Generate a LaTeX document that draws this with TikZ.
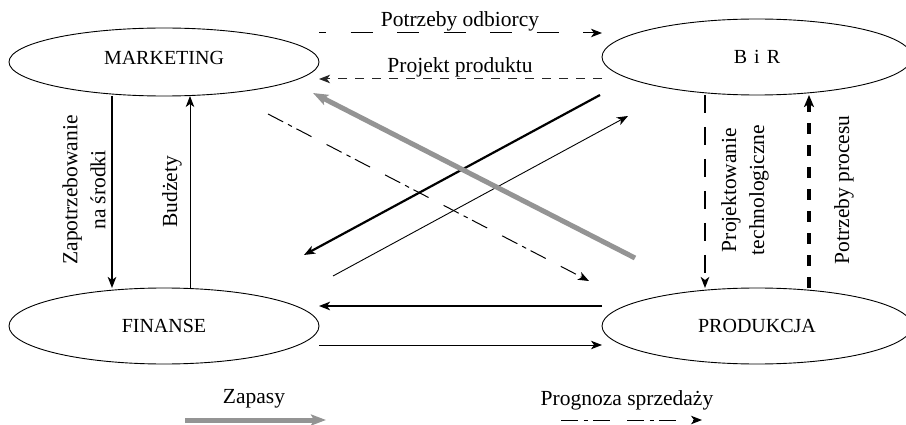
\documentclass[tikz,border=0pt]{standalone}
\usepackage{fontspec}
\setmainfont{Liberation Serif}
\usetikzlibrary{arrows.meta,shapes.geometric}

\begin{document}
\begin{tikzpicture}[x=1pt,y=-1pt,
  unit/.style={ellipse, draw, line width=0.9pt, inner sep=0pt, outer sep=0pt,
    minimum width=310pt, font=\fontsize{20}{24}\selectfont},
  lbl/.style={inner sep=0pt, outer sep=0pt, font=\fontsize{21.5}{28}\selectfont},
  tip/.style={-{Stealth[length=11pt,width=8.5pt,inset=3pt]}},
  thinflow/.style={tip, line width=0.9pt},
  thickflow/.style={tip, line width=2.2pt},
  stockflow/.style={-{Stealth[length=15pt,width=11pt,inset=3pt]}, line width=5pt, draw=black!42},
  needflow/.style={tip, line width=1pt, dash pattern=on 22pt off 24.5pt, dash phase=15pt},
  designflow/.style={tip, line width=1pt, draw=black!85, dash pattern=on 9pt off 8pt},
  techflow/.style={tip, line width=2pt, dash pattern=on 18pt off 14pt},
  procflow/.style={-{Stealth[length=12pt,width=10pt,inset=3pt]}, line width=4pt, dash pattern=on 11pt off 11pt},
  salesflow/.style={tip, line width=1pt,
    dash pattern=on 17pt off 5.5pt on 4.5pt off 5pt on 17pt off 17pt},
]
\useasboundingbox (0,0) rectangle (906,425);

% departments
\node[unit, minimum height=68pt, text depth=8pt] (mk) at (164,62) {MARKETING};
\node[unit, minimum height=76pt] (bir) at (757,57) {B\hspace{2pt} i\hspace{2pt} R};
\node[unit, minimum height=76pt] (fin) at (164,326) {FINANSE};
\node[unit, minimum height=76pt] (prod) at (757,326) {PRODUKCJA};

% helper points for the horizontal flows
\coordinate (n1) at ([yshift=29pt]mk.east);
\coordinate (n2) at (n1 -| bir.west);
\coordinate (d1) at ([yshift=-17pt]mk.east);
\coordinate (d2) at (d1 -| bir.west);
\coordinate (c1) at ([yshift=20pt]prod.west);
\coordinate (c2) at (c1 -| fin.east);
\coordinate (f1) at ([yshift=-19pt]fin.east);
\coordinate (f2) at (f1 -| prod.west);

% MARKETING <-> B i R
\draw[needflow] (n1) -- (n2);
\draw[designflow] (d2) -- (d1);
\node[lbl, anchor=base] (lneed) at (460,27) {Potrzeby odbiorcy};
\node[lbl, anchor=base] (ldesign) at (460,73) {Projekt produktu};

% MARKETING <-> FINANSE
\draw[thickflow] ([xshift=-52pt]mk.south) -- ([xshift=-52pt]fin.north);
\draw[thinflow] ([xshift=26pt]fin.north) -- ([xshift=26pt]mk.south);
\node[lbl, rotate=90, align=center] (lreq) at (84,190) {Zapotrzebowanie\\na środki};
\node[lbl, rotate=90, anchor=base] (lbud) at (177,192) {Budżety};

% B i R <-> PRODUKCJA
\draw[techflow] ([xshift=-52pt]bir.south) -- ([xshift=-52pt]prod.north);
\draw[procflow] ([xshift=52pt]prod.north) -- ([xshift=52pt]bir.south);
\node[lbl, rotate=90, align=center] (ltech) at (745,190) {Projektowanie\\technologiczne};
\node[lbl, rotate=90, anchor=base] (lproc) at (849,190) {Potrzeby procesu};

% FINANSE <-> PRODUKCJA
\draw[thickflow] (c1) -- (c2);
\draw[thinflow] (f1) -- (f2);

% crossing flows
\draw[salesflow] ([shift={(-51,52)}]mk.east) -- ([shift={(-13,-45)}]prod.west);
\draw[thickflow] ([shift={(-2,38)}]bir.west) -- ([shift={(-15,-71)}]fin.east);
\draw[thinflow] ([shift={(14,-50)}]fin.east) -- ([shift={(26,59)}]bir.west);
\draw[stockflow] ([shift={(33,-68)}]prod.west) -- ([shift={(-6,31)}]mk.east);

% legend
\node[lbl, anchor=base] (lstock) at (254,403) {Zapasy};
\node[lbl, anchor=base] (lsales) at (627,405) {Prognoza sprzedaży};
\draw[stockflow] ([shift={(-69,17)}]lstock.base) -- ([shift={(72,17)}]lstock.base);
\draw[salesflow] ([shift={(-66,15)}]lsales.base) -- ([shift={(75,15)}]lsales.base);
\end{tikzpicture}
\end{document}
